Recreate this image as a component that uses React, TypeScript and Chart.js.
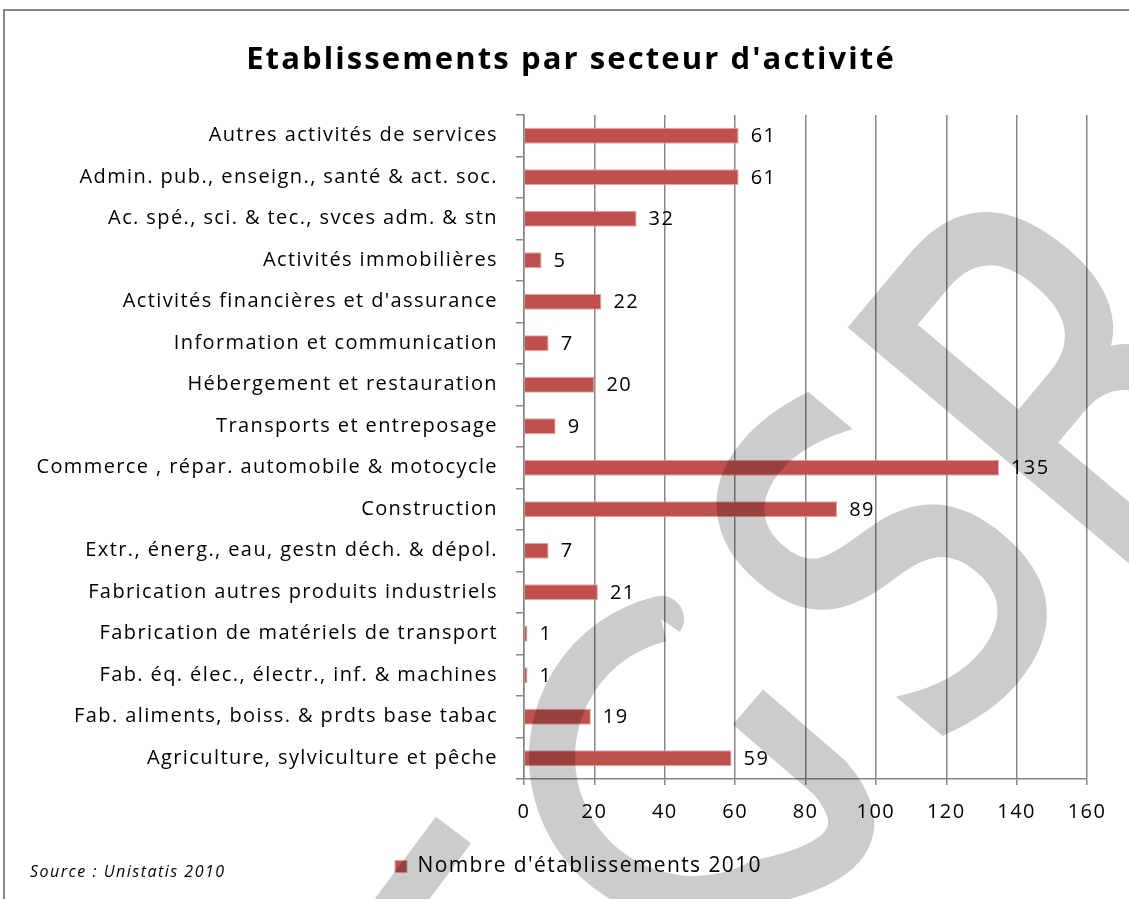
import { useEffect, useRef } from "react";
import { Chart, registerables } from "chart.js";

Chart.register(...registerables);

const categories = [
  "Autres activités de services",
  "Admin. pub., enseign., santé & act. soc.",
  "Ac. spé., sci. & tec., svces adm. & stn",
  "Activités immobilières",
  "Activités financières et d'assurance",
  "Information et communication",
  "Hébergement et restauration",
  "Transports et entreposage",
  "Commerce , répar. automobile & motocycle",
  "Construction",
  "Extr., énerg., eau, gestn déch. & dépol.",
  "Fabrication autres produits industriels",
  "Fabrication de matériels de transport",
  "Fab. éq. élec., électr., inf. & machines",
  "Fab. aliments, boiss. & prdts base tabac",
  "Agriculture, sylviculture et pêche",
];
const values2010 = [61, 61, 32, 5, 22, 7, 20, 9, 135, 89, 7, 21, 1, 1, 19, 59];
const seriesLabel = "Nombre d'établissements 2010";
const titleText = "Etablissements par secteur d'activité";
const sourceText = "Source : Unistatis 2010";
const xMin = 0;
const xMax = 160;
const xStep = 20;

const FONT = "'Open Sans'";
const GRID = "#868686";
const BAR = "#C0504D";
const SPACING = "1.4px";
const WM_ANGLE = (-50 * Math.PI) / 180;

function drawWatermark(chart: any) {
  const off = document.createElement("canvas");
  off.width = chart.width;
  off.height = chart.height;
  const o = off.getContext("2d")!;
  o.fillStyle = "#000";
  o.strokeStyle = "#000";
  o.textAlign = "left";
  o.textBaseline = "alphabetic";
  o.lineJoin = "miter";

  const glyph = (ch: string, x: number, y: number, size: number, lw: number) => {
    o.save();
    o.translate(x, y);
    o.rotate(WM_ANGLE);
    o.scale(0.77, 1);
    o.font = `${size}px "DejaVu Sans"`;
    o.lineWidth = lw;
    o.fillText(ch, 0, 0);
    o.strokeText(ch, 0, 0);
    o.restore();
  };
  glyph("R", 1128, 612, 540, 8);
  glyph("S", 938, 759, 470, 11);

  // rounded letter (left)
  o.lineCap = "butt";
  o.lineJoin = "round";
  o.lineWidth = 46;
  o.beginPath();
  o.moveTo(661, 619);
  o.arc(694, 757, 142, (-103.4 * Math.PI) / 180, (62 * Math.PI) / 180, true);
  o.quadraticCurveTo(895, 855, 830, 778);
  o.lineTo(748, 707);
  o.stroke();

  // partial stroke of the first letter
  o.lineWidth = 44;
  o.beginPath();
  o.moveTo(453.5, 830);
  o.lineTo(364, 950);
  o.stroke();

  const ctx = chart.ctx;
  ctx.save();
  ctx.globalAlpha = 0.2;
  ctx.drawImage(off, 0, 0);
  ctx.restore();
}

const decorPlugin = {
  id: "decor",
  beforeLayout(chart: any) {
    chart.ctx.letterSpacing = SPACING;
  },
  afterLayout(chart: any) {
    const lg = chart.legend;
    if (lg) {
      lg.left += 30;
      lg.right += 30;
    }
  },
  beforeDraw(chart: any) {
    chart.ctx.letterSpacing = SPACING;
  },
  afterDatasetsDraw(chart: any) {
    const ctx = chart.ctx;
    const meta = chart.getDatasetMeta(0);
    ctx.save();
    ctx.letterSpacing = SPACING;
    ctx.fillStyle = "#000";
    ctx.font = `20px ${FONT}`;
    ctx.textAlign = "left";
    ctx.textBaseline = "middle";
    meta.data.forEach((bar: any, i: number) => {
      ctx.fillText(String(values2010[i]), bar.x + 12, bar.y + 1);
    });
    ctx.restore();
  },
  afterDraw(chart: any) {
    const ctx = chart.ctx;
    ctx.save();
    ctx.strokeStyle = GRID;
    ctx.lineWidth = 2;
    ctx.strokeRect(4, 10, 1140, 900);
    ctx.fillStyle = "#000";
    ctx.letterSpacing = "2.1px";
    ctx.font = `bold 31px ${FONT}`;
    ctx.textAlign = "center";
    ctx.textBaseline = "middle";
    ctx.fillText(titleText, 571, 60);
    ctx.letterSpacing = "1.5px";
    ctx.font = `italic 16px ${FONT}`;
    ctx.textAlign = "left";
    ctx.fillText(sourceText, 30, 872);
    ctx.restore();
    drawWatermark(chart);
  },
};

export default function App() {
  const ref = useRef<HTMLCanvasElement | null>(null);
  useEffect(() => {
    document.body.style.margin = "0";
    const canvas = ref.current!;
    const chart = new Chart(canvas, {
      type: "bar",
      data: {
        labels: categories,
        datasets: [
          {
            label: seriesLabel,
            data: values2010,
            backgroundColor: BAR,
            borderColor: "#E3A9A7",
            borderWidth: 1,
            barPercentage: 0.39,
            categoryPercentage: 1,
          },
        ],
      },
      options: {
        indexAxis: "y",
        responsive: false,
        animation: false,
        devicePixelRatio: 1,
        layout: { padding: { left: 10, right: 42, top: 115, bottom: 12 } },
        plugins: {
          title: { display: false },
          tooltip: { enabled: false },
          legend: {
            display: true,
            position: "bottom",
            labels: {
              font: { family: "Open Sans", size: 21 },
              color: "#000",
              boxWidth: 12,
              boxHeight: 12,
              padding: 10,
            },
          },
        },
        scales: {
          x: {
            min: xMin,
            max: xMax,
            ticks: { stepSize: xStep, color: "#000", font: { family: "Open Sans", size: 20 }, padding: 15 },
            grid: { color: GRID, lineWidth: 1.5, tickLength: 6, tickColor: GRID },
            border: { color: GRID, width: 1.5 },
            afterFit: (s: any) => {
              s.height = 67;
            },
          },
          y: {
            ticks: { color: "#000", font: { family: "Open Sans", size: 20 }, padding: 18, autoSkip: false },
            grid: { drawOnChartArea: false, tickLength: 8, tickColor: GRID, lineWidth: 1.5 },
            border: { color: GRID, width: 1.5 },
            afterFit: (s: any) => {
              s.width = 514;
            },
          },
        },
      },
      plugins: [decorPlugin],
    });
    return () => chart.destroy();
  }, []);
  return (
    <div style={{ width: 1129, height: 899 }}>
      <canvas ref={ref} width={1129} height={899} style={{ display: "block" }} />
    </div>
  );
}
